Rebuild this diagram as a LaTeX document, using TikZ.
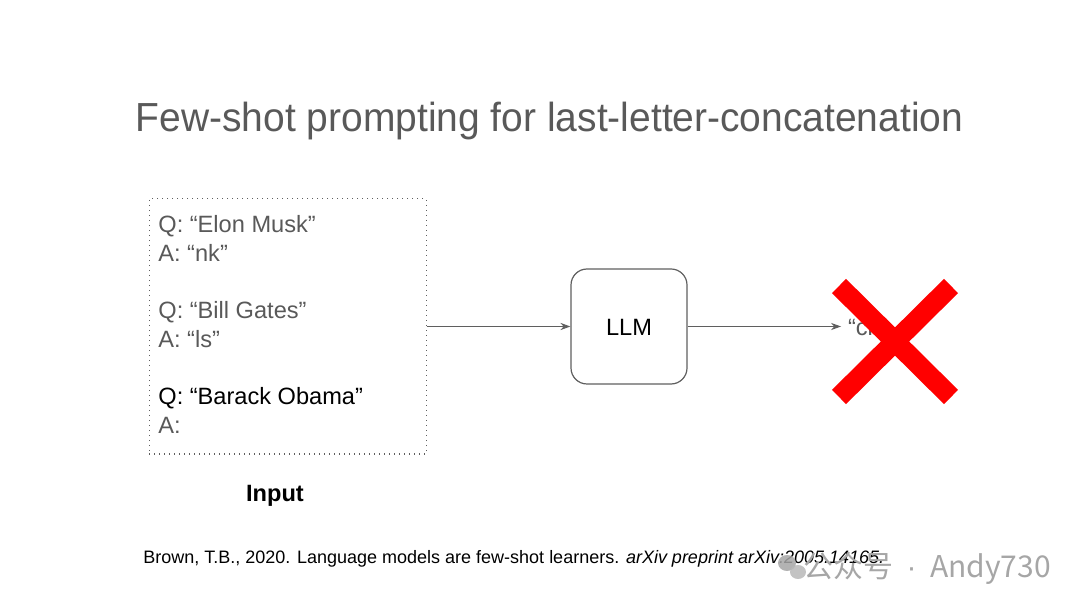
\documentclass[tikz,border=0pt]{standalone}
\usepackage{fontspec}
\setmainfont{Liberation Sans}
\newfontfamily\titlefont[FakeStretch=0.96]{Liberation Sans}
\newfontfamily\cjkfont{Noto Sans CJK SC}
\usetikzlibrary{arrows.meta,calc,positioning}
\definecolor{SlideGray}{HTML}{595959}
\definecolor{SlideLine}{HTML}{5F5F5F}
\definecolor{CrossRed}{HTML}{FF0000}
\definecolor{MarkGray}{HTML}{A6A6A6}

\begin{document}
\begin{tikzpicture}[x=0.5pt,y=-0.5pt,
    flow/.style={-{Stealth[length=5pt,width=3.6pt]},SlideLine,line width=0.5pt},
    bodytext/.style={font=\fontsize{11.8}{14.35}\selectfont}]
  \useasboundingbox (0,0) rectangle (1080,608);
  \node[anchor=base,text=SlideGray,font=\titlefont\fontsize{20.3}{24}\selectfont]
    (title) at (549.5,132) {Few-shot prompting for last-letter-concatenation};
  \node[draw=SlideLine,dotted,line width=0.5pt,inner sep=0pt,
    minimum width=138.5pt,minimum height=127.5pt] (inputbox) at (287.5,326.5) {};
  \node[anchor=north west,align=left,inner sep=0pt,text=SlideGray,bodytext]
    (prompt) at (158,215) {Q: “Elon Musk”\\A: “nk”\\[14.35pt]Q: “Bill Gates”\\A: “ls”\\[14.35pt]%
    \color{black}Q: “Barack Obama”\\A:};
  \node[anchor=base,font=\bfseries\fontsize{11.8}{14}\selectfont] (caption) at (275,502) {Input};
  \node[draw=SlideLine,line width=0.6pt,rounded corners=8pt,inner sep=0pt,
    minimum width=58pt,minimum height=57.5pt] (llm) at (629,326.5) {};
  \node[anchor=base,bodytext] (llmlabel) at (llm.center |- 0,336) {LLM};
  \node[anchor=base west,text=SlideGray,bodytext] (answer) at (841,336) {“ck”};
  \draw[flow] (inputbox.east) -- (llm.west);
  \draw[flow] (llm.east) -- (answer.west |- llm.east);
  % red cross over the answer
  \draw[CrossRed,line width=10pt] (839,286) -- (951,397) (951,286) -- (839,397);
  \node[anchor=base west,inner sep=0pt,font=\fontsize{9}{11}\selectfont]
    (reference) at (143,563) {Brown, T.B., 2020. Language models are few-shot learners. \textit{arXiv preprint arXiv:2005.14165.}};
  % watermark
  \fill[MarkGray,opacity=0.85] (787,563) ellipse (9 and 8);
  \fill[MarkGray!80,opacity=0.85] (798,572) ellipse (8 and 7);
  \node[anchor=base west,inner sep=0pt,text=MarkGray,font=\fontsize{15}{17}\selectfont]
    (mark) at (803,577) {\cjkfont 公众号\,{\rmfamily\ ·\ }\,Andy730};
\end{tikzpicture}
\end{document}
